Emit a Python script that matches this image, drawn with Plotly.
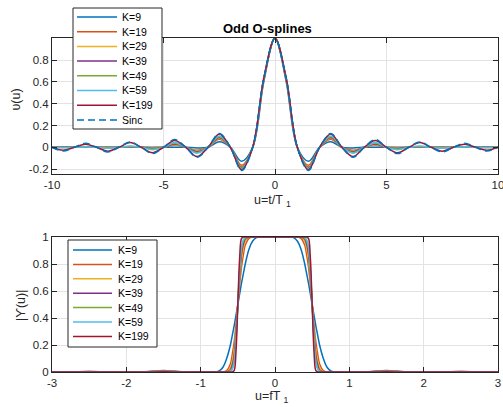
import plotly.graph_objects as go

# ---------------- data ----------------
# top panel: u = t/T1 (symmetric, values for u >= 0)
u_half = [0, 0.5, 1, 1.5, 2, 2.5, 3, 3.5, 4, 4.5, 5, 5.5, 6, 6.5, 7, 7.5, 8, 8.5, 9, 9.5, 10]
v_k9   = [1, 0.605, 0, -0.128, 0, 0.050, 0, -0.006, 0, 0.001, 0, 0.000, 0, 0.000, 0, 0.000, 0, 0.000, 0, 0.000, 0]
v_k19  = [1, 0.620, 0, -0.165, 0, 0.073, 0, -0.028, 0, 0.018, 0, -0.004, 0, 0.001, 0, 0.000, 0, 0.000, 0, 0.000, 0]
v_k29  = [1, 0.626, 0, -0.178, 0, 0.083, 0, -0.035, 0, 0.024, 0, -0.007, 0, 0.002, 0, -0.001, 0, 0.000, 0, 0.000, 0]
v_k39  = [1, 0.629, 0, -0.186, 0, 0.090, 0, -0.041, 0, 0.030, 0, -0.011, 0, 0.005, 0, -0.002, 0, 0.001, 0, 0.000, 0]
v_k49  = [1, 0.631, 0, -0.192, 0, 0.097, 0, -0.047, 0, 0.037, 0, -0.016, 0, 0.008, 0, -0.004, 0, 0.002, 0, -0.001, 0]
v_k59  = [1, 0.633, 0, -0.197, 0, 0.103, 0, -0.054, 0, 0.044, 0, -0.022, 0, 0.013, 0, -0.008, 0, 0.005, 0, -0.003, 0]
v_k199 = [1, 0.636, 0, -0.207, 0, 0.122, 0, -0.085, 0, 0.063, 0, -0.050, 0, 0.043, 0, -0.036, 0, 0.029, 0, -0.027, 0]
v_sinc = [1, 0.637, 0, -0.212, 0, 0.127, 0, -0.091, 0, 0.071, 0, -0.058, 0, 0.049, 0, -0.042, 0, 0.037, 0, -0.034, 0]

# bottom panel: u = f*T1 (symmetric, values for u >= 0)
f_half = [0, 0.2, 0.25, 0.3, 0.35, 0.4, 0.425, 0.45, 0.475, 0.5, 0.525, 0.55, 0.575, 0.6,
          0.65, 0.7, 0.75, 0.8, 1.0, 1.25, 1.5, 1.75, 2.0, 2.25, 2.5, 2.75, 3.0]
g_k9   = [1, 1, 0.995, 0.97, 0.91, 0.80, 0.73, 0.66, 0.58, 0.50, 0.42, 0.34, 0.27, 0.20,
          0.10, 0.035, 0.008, 0, 0, 0.002, 0.012, 0.002, 0, 0.001, 0.004, 0.001, 0]
g_k19  = [1, 1, 1, 1, 0.99, 0.94, 0.87, 0.78, 0.65, 0.50, 0.35, 0.22, 0.13, 0.06,
          0.01, 0, 0, 0, 0, 0.001, 0.008, 0.001, 0, 0, 0.003, 0, 0]
g_k29  = [1, 1, 1, 1, 1, 0.97, 0.92, 0.84, 0.69, 0.50, 0.31, 0.16, 0.08, 0.03,
          0.003, 0, 0, 0, 0, 0.001, 0.006, 0.001, 0, 0, 0.002, 0, 0]
g_k39  = [1, 1, 1, 1, 1, 0.985, 0.95, 0.88, 0.72, 0.50, 0.28, 0.12, 0.05, 0.015,
          0, 0, 0, 0, 0, 0, 0.005, 0, 0, 0, 0.002, 0, 0]
g_k49  = [1, 1, 1, 1, 1, 0.99, 0.97, 0.91, 0.75, 0.50, 0.25, 0.09, 0.03, 0.01,
          0, 0, 0, 0, 0, 0, 0.004, 0, 0, 0, 0.001, 0, 0]
g_k59  = [1, 1, 1, 1, 1, 0.995, 0.98, 0.93, 0.77, 0.50, 0.23, 0.07, 0.02, 0.005,
          0, 0, 0, 0, 0, 0, 0.003, 0, 0, 0, 0.001, 0, 0]
g_k199 = [1, 1, 1, 1, 1, 1, 1, 0.99, 0.85, 0.50, 0.15, 0.01, 0, 0,
          0, 0, 0, 0, 0, 0, 0.001, 0, 0, 0, 0, 0, 0]

labels = ["K=9", "K=19", "K=29", "K=39", "K=49", "K=59", "K=199"]
sinc_label = "Sinc"
top_series = [v_k9, v_k19, v_k29, v_k39, v_k49, v_k59, v_k199]
bot_series = [g_k9, g_k19, g_k29, g_k39, g_k49, g_k59, g_k199]

x_ticks_top = [-10, -5, 0, 5, 10]
x_ticktext_top = ["-10", "-5", "0", "5", "10"]
y_ticks_top = [-0.2, 0, 0.2, 0.4, 0.6, 0.8]
y_ticktext_top = ["-0.2", "0", "0.2", "0.4", "0.6", "0.8"]
x_ticks_bot = [-3, -2, -1, 0, 1, 2, 3]
x_ticktext_bot = ["-3", "-2", "-1", "0", "1", "2", "3"]
y_ticks_bot = [0, 0.2, 0.4, 0.6, 0.8, 1]
y_ticktext_bot = ["0", "0.2", "0.4", "0.6", "0.8", "1"]

title_text = "<b>Odd O-splines</b>"
xlabel_top = "u=t/T <sub>1</sub>"
ylabel_top = "υ(u)"
xlabel_bot = "u=fT <sub>1</sub>"
ylabel_bot = "|ϒ(u)|"

# ---------------- style ----------------
colors = ["#0072BD", "#D95319", "#EDB120", "#7E2F8E", "#77AC30", "#4DBEEE", "#A2142F"]
W, H = 503, 407
FONT = "Liberation Sans, Arial, sans-serif"
AX = "#262626"


def mx(h):
    return [-x for x in h[:0:-1]] + list(h)


def my(h):
    return list(h[:0:-1]) + list(h)


def px(x):
    return x / W


def py(y):
    return 1 - y / H


fig = go.Figure()
for lab, col, vals in zip(labels, colors, top_series):
    fig.add_trace(go.Scatter(x=mx(u_half), y=my(vals), mode="lines", name=lab,
                             line=dict(color=col, width=1.5, shape="spline"),
                             xaxis="x", yaxis="y", showlegend=False))
fig.add_trace(go.Scatter(x=mx(u_half), y=my(v_sinc), mode="lines", name=sinc_label,
                         line=dict(color=colors[0], width=1.5, shape="spline", dash="7px,4px"),
                         xaxis="x", yaxis="y", showlegend=False))
for lab, col, vals in zip(labels, colors, bot_series):
    fig.add_trace(go.Scatter(x=mx(f_half), y=my(vals), mode="lines", name=lab,
                             line=dict(color=col, width=1.5, shape="spline"),
                             xaxis="x2", yaxis="y2", showlegend=False))

axis_common = dict(showline=True, linecolor=AX, linewidth=1, mirror="allticks",
                   ticks="inside", ticklen=5, tickwidth=1, tickcolor=AX,
                   showgrid=True, gridcolor="#e3e3e3", gridwidth=1, zeroline=False,
                   automargin=False, ticklabeloverflow="allow",
                   tickfont=dict(family=FONT, size=11.5, color=AX))

fig.update_layout(
    template="none",
    width=W, height=H, margin=dict(l=0, r=0, t=0, b=0, pad=0),
    paper_bgcolor="white", plot_bgcolor="white", showlegend=False,
    xaxis=dict(domain=[px(52), px(498)], anchor="y", range=[-10, 10],
               tickvals=x_ticks_top, ticktext=x_ticktext_top, **axis_common),
    yaxis=dict(domain=[py(174), py(38)], anchor="x", range=[-0.245, 1.003],
               tickvals=y_ticks_top, ticktext=y_ticktext_top, **axis_common),
    xaxis2=dict(domain=[px(52), px(498)], anchor="y2", range=[-3, 3],
                tickvals=x_ticks_bot, ticktext=x_ticktext_bot, **axis_common),
    yaxis2=dict(domain=[py(372), py(237)], anchor="x2", range=[0, 1],
                tickvals=y_ticks_bot, ticktext=y_ticktext_bot, **axis_common),
)

annotations = [
    dict(text=title_text, x=px(267), y=py(28), xref="paper", yref="paper",
         xanchor="center", yanchor="middle", showarrow=False,
         font=dict(family=FONT, size=13, color="#000000")),
    dict(text=xlabel_top, x=px(272), y=py(201), xref="paper", yref="paper",
         xanchor="center", yanchor="middle", showarrow=False,
         font=dict(family=FONT, size=12.5, color=AX)),
    dict(text=xlabel_bot, x=px(272), y=py(397), xref="paper", yref="paper",
         xanchor="center", yanchor="middle", showarrow=False,
         font=dict(family=FONT, size=12.5, color=AX)),
    dict(text=ylabel_top, x=px(15.5), y=py(100), xref="paper", yref="paper",
         xanchor="center", yanchor="middle", showarrow=False, textangle=-90,
         font=dict(family=FONT, size=12.5, color=AX)),
    dict(text=ylabel_bot, x=px(21), y=py(306), xref="paper", yref="paper",
         xanchor="center", yanchor="middle", showarrow=False, textangle=-90,
         font=dict(family=FONT, size=12.5, color=AX)),
]

shapes = []


def add_legend(box, y0, dy, lx0, lx1, tx, entries):
    shapes.append(dict(type="rect", xref="paper", yref="paper",
                       x0=px(box[0]), x1=px(box[2]), y0=py(box[3]), y1=py(box[1]),
                       line=dict(color=AX, width=1), fillcolor="white", layer="above"))
    for i, (lab, col, dash) in enumerate(entries):
        yy = y0 + i * dy
        shapes.append(dict(type="line", xref="paper", yref="paper",
                           x0=px(lx0), x1=px(lx1), y0=py(yy), y1=py(yy),
                           line=dict(color=col, width=1.5, dash=dash), layer="above"))
        annotations.append(dict(text=lab, x=px(tx), y=py(yy), xref="paper", yref="paper",
                                xanchor="left", yanchor="middle", showarrow=False,
                                font=dict(family=FONT, size=10.5, color="#000000")))


top_entries = [(l, c, "solid") for l, c in zip(labels, colors)] + [(sinc_label, colors[0], "7px,4px")]
bot_entries = [(l, c, "solid") for l, c in zip(labels, colors)]
add_legend((73, 8, 162, 129), 17, 14.7, 77, 117, 120, top_entries)
add_legend((68, 240, 157, 347), 250, 14.4, 73, 112, 116, bot_entries)

fig.update_layout(annotations=annotations, shapes=shapes)
fig.write_html("out.html", config={"displayModeBar": False},
               post_script="document.body.style.margin='0px';document.body.style.overflow='hidden';")
